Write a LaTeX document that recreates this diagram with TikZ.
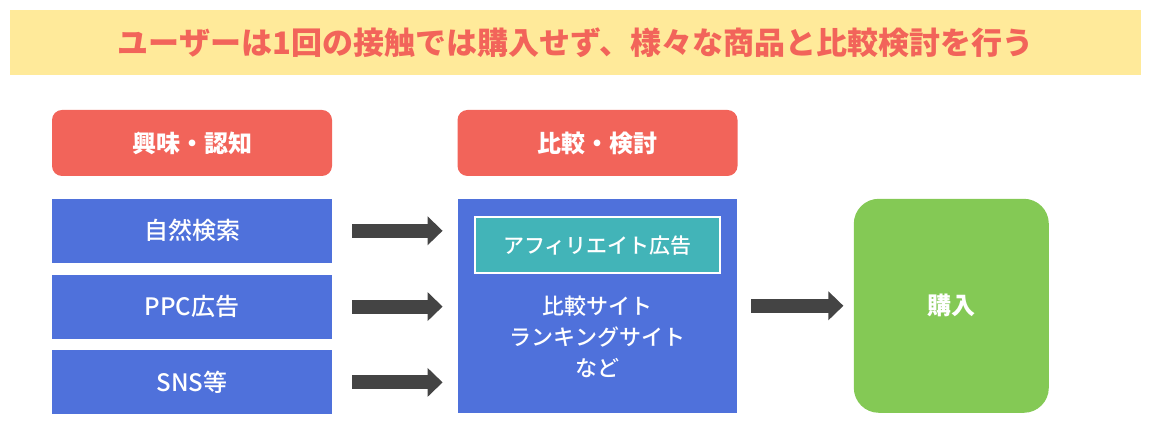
\documentclass[tikz,border=0pt]{standalone}
\usepackage{fontspec}
\setmainfont{Noto Sans CJK JP}
\newfontfamily\medfont{Noto Sans CJK JP Medium}
\usetikzlibrary{positioning, arrows.meta}
\definecolor{titlebg}{HTML}{FFEA9A}
\definecolor{salmon}{HTML}{F2645A}
\definecolor{stepblue}{HTML}{4F71DB}
\definecolor{affteal}{HTML}{42B4B8}
\definecolor{buygreen}{HTML}{84C955}
\definecolor{arrowgray}{HTML}{444444}

\begin{document}
\begin{tikzpicture}[x=0.5pt, y=-0.5pt,
	every node/.style={inner sep=0pt, align=center},
	header/.style={fill=salmon, rounded corners=5pt, minimum width=140pt, minimum height=33pt, text=white, font=\fontsize{12pt}{14pt}\selectfont\bfseries},
	stepbox/.style={fill=stepblue, minimum width=140pt, minimum height=32pt, text=white, font=\fontsize{12pt}{14pt}\selectfont\medfont},
	bigarrow/.style={draw=arrowgray, line width=7pt, -{Triangle[width=14pt, length=7.5pt]}}]
			\useasboundingbox (0,0) rectangle (1151,431);
			% titulo
			\node [fill=titlebg, minimum width=565.5pt, minimum height=32.5pt, text=salmon, font=\fontsize{15.5pt}{18pt}\selectfont\bfseries] (title) at (575.5,42.5) {ユーザーは1回の接触では購入せず、様々な商品と比較検討を行う};
			
			% etapas
			\node [header] (interest) at (192,143) {興味・認知};
			\node [header] (review) at (597.5,143) {比較・検討};
			\node [stepbox] (search) [below=11pt of interest] {自然検索};
			\node [stepbox] (ppc) [below=5.5pt of search] {PPC広告};
			\node [stepbox] (sns) [below=5.5pt of ppc] {SNS等};
			\node [fill=stepblue, minimum width=139.5pt, minimum height=107pt] (compare) [below=11pt of review] {};
			\node [fill=affteal, draw=white, line width=1pt, minimum width=122.5pt, minimum height=28pt, text=white, font=\fontsize{10.5pt}{12pt}\selectfont\medfont] (affiliate) [below=9pt of compare.north] {アフィリエイト広告};
			\node [text=white, font=\fontsize{11pt}{15.5pt}\selectfont\medfont] (sites) at (597.5,337) {比較サイト\\ランキングサイト\\など};
			\node [fill=buygreen, rounded corners=12.5pt, minimum width=97.5pt, minimum height=107pt, text=white, font=\fontsize{12pt}{14pt}\selectfont\bfseries] (buy) [right=58pt of compare] {購入};
			
			% flechas
			\draw [bigarrow, shorten <=10pt, shorten >=7.5pt] (search.east) -- (search.east -| compare.west);
			\draw [bigarrow, shorten <=10pt, shorten >=7.5pt] (ppc.east) -- (ppc.east -| compare.west);
			\draw [bigarrow, shorten <=10pt, shorten >=7.5pt] (sns.east) -- (sns.east -| compare.west);
			\draw [bigarrow, shorten <=7pt, shorten >=5pt] (compare.east) -- (buy.west);
\end{tikzpicture}
\end{document}
